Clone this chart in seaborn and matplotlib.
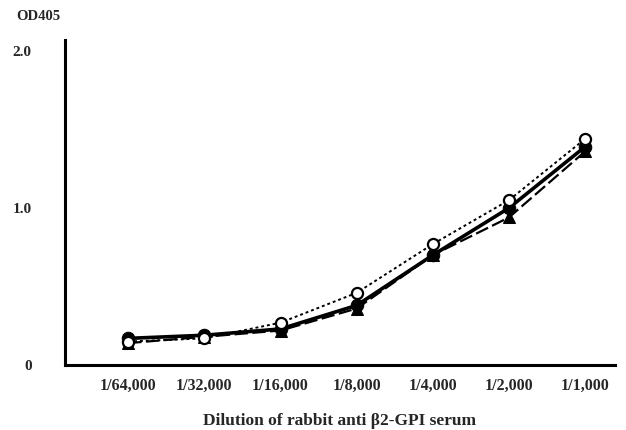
import matplotlib
matplotlib.use("Agg")
import matplotlib.pyplot as plt
import pandas as pd
import seaborn as sns

dilutions = ['1/64,000', '1/32,000', '1/16,000', '1/8,000', '1/4,000', '1/2,000', '1/1,000']
open_circle = [0.15, 0.17, 0.27, 0.46, 0.77, 1.05, 1.44]
filled_circle = [0.17, 0.19, 0.23, 0.38, 0.70, 1.00, 1.39]
triangle = [0.14, 0.18, 0.22, 0.36, 0.70, 0.94, 1.36]

df = pd.DataFrame({
    'x': list(range(len(dilutions))) * 3,
    'od': open_circle + filled_circle + triangle,
    'series': ['open'] * 7 + ['filled'] * 7 + ['tri'] * 7,
})

sns.set_style('white')
plt.rcParams['font.family'] = ['Liberation Serif', 'DejaVu Serif']

fig = plt.figure(figsize=(6.26, 4.30), dpi=100)
ax = fig.add_axes([0.104, 0.151, 0.878, 0.756])

styles = {
    'tri': dict(marker='^', linestyle=(0, (6, 2)), linewidth=1.6, markersize=9,
                markerfacecolor='black'),
    'filled': dict(marker='o', linestyle='-', linewidth=2.6, markersize=9,
                   markerfacecolor='black'),
    'open': dict(marker='o', linestyle=(0, (1.5, 1.5)), linewidth=1.4, markersize=8,
                 markerfacecolor='white', markeredgewidth=1.6),
}
for name, st in styles.items():
    sub = df[df['series'] == name]
    sns.lineplot(data=sub, x='x', y='od', ax=ax, color='black',
                 markeredgecolor='black', **st)

ax.set_xlim(-0.83, 6.39)
ax.set_ylim(0, 2.07)
ax.set_xticks(range(len(dilutions)))
ax.set_xticklabels(dilutions, fontsize=11.5, fontweight='bold')
ax.set_yticks([0, 1.0, 2.0])
ax.set_yticklabels(['0', '1.0', '2.0'], fontsize=11, fontweight='bold')
ax.tick_params(length=0)
ax.tick_params(axis='y', pad=24)
ax.tick_params(axis='x', pad=9)
ax.set_xlabel('Dilution of rabbit anti β2-GPI serum', fontsize=12.5,
              fontweight='semibold', labelpad=14)
ax.set_ylabel('')
fig.text(38 / 626, 1 - 16 / 430, 'OD405', fontsize=10.5, fontweight='bold',
         ha='center', va='center')

sns.despine(ax=ax)
for s in ['left', 'bottom']:
    ax.spines[s].set_linewidth(2.2)
    ax.spines[s].set_color('black')

fig.savefig('out.png', dpi=100)
